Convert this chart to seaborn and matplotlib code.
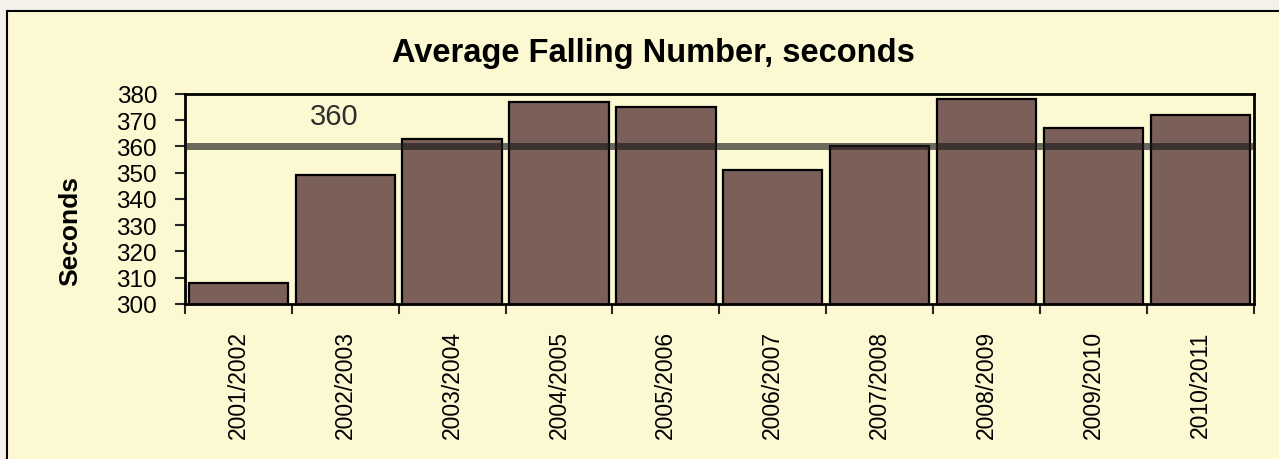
import pandas as pd
import seaborn as sns
import matplotlib.pyplot as plt
from matplotlib.patches import Rectangle
from matplotlib.ticker import FixedLocator

# Values
seasons = ["2001/2002", "2002/2003", "2003/2004", "2004/2005", "2005/2006",
           "2006/2007", "2007/2008", "2008/2009", "2009/2010", "2010/2011"]
seconds = [308, 349, 363, 377, 375, 351, 360, 378, 367, 372]
reference_level = 360

df = pd.DataFrame({"Season": seasons, "Seconds": seconds})

sns.set_theme(style="white")
plt.rcParams["font.family"] = ["Liberation Sans", "DejaVu Sans"]

fig = plt.figure(figsize=(12.79, 4.6), dpi=100, facecolor="#f4f1ea")
# pale yellow chart area with black border
fig.patches.append(Rectangle((0.0055, -0.01), 1.0, 0.984, transform=fig.transFigure,
                             facecolor="#fcf9d2", edgecolor="black", linewidth=1.5, zorder=-5))
ax = fig.add_axes([0.1446, 0.337, 0.8356, 0.4565])
ax.set_facecolor("#fcf9d2")

sns.barplot(data=df, x="Season", y="Seconds", color="#7a6058", saturation=1,
            width=0.93, edgecolor="black", linewidth=1.6, ax=ax)

ax.axhline(reference_level, xmax=0.998, color="#1c1c1c", alpha=0.65, linewidth=5, zorder=5)
ax.text(0.9, 371.7, str(reference_level), ha="center", va="center",
        fontsize=21, color="#2e2e2e")

ax.set_ylim(300, 380)
ax.set_xlim(-0.5, len(seasons) - 0.5)
ax.set_yticks(range(300, 381, 10))
ax.tick_params(axis="y", labelsize=17.5, length=7, width=1.5, direction="out", left=True,
               pad=13, labelcolor="black")
ax.tick_params(axis="x", which="major", labelsize=16.5, length=0, pad=19, labelcolor="black")
ax.xaxis.set_minor_locator(FixedLocator([i - 0.5 for i in range(len(seasons) + 1)]))
ax.tick_params(axis="x", which="minor", length=7, width=1.5, direction="out", bottom=True)
plt.setp(ax.get_xticklabels(), rotation=90)

for s in ax.spines.values():
    s.set_visible(True)
    s.set_color("black")
    s.set_linewidth(2)

ax.set_xlabel("")
ax.set_ylabel("Seconds", fontsize=19, fontweight="bold", color="black")
ax.yaxis.set_label_coords(-0.096, 0.352)
fig.text(0.5106, 0.865, "Average Falling Number, seconds", ha="center", va="baseline",
         fontsize=23.5, fontweight="bold", color="black")

plt.savefig("out.png", dpi=100, facecolor=fig.get_facecolor())
